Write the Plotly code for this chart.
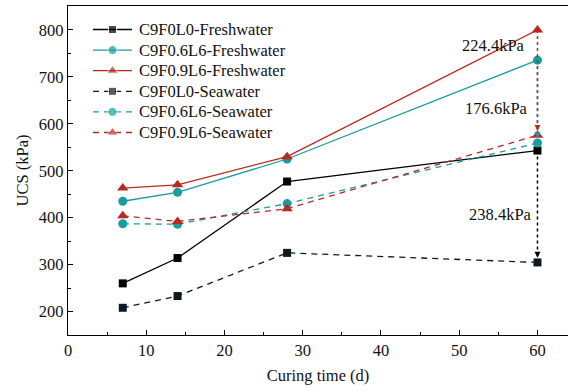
import plotly.graph_objects as go

days = [7, 14, 28, 60]
fresh_c9f0l0 = [260, 314, 477, 543]
fresh_c9f06l6 = [435, 454, 525, 735.6]
fresh_c9f09l6 = [463, 470, 530, 800]
sea_c9f0l0 = [208, 233, 325, 304.6]
sea_c9f06l6 = [387, 386, 430, 559]
sea_c9f09l6 = [404, 392, 419, 575.6]

names = ["C9F0L0-Freshwater", "C9F0.6L6-Freshwater", "C9F0.9L6-Freshwater",
         "C9F0L0-Seawater", "C9F0.6L6-Seawater", "C9F0.9L6-Seawater"]
diff_labels = ["238.4kPa", "176.6kPa", "224.4kPa"]

BLACK = "#000000"
DARK = "#0e1a22"
TEAL = "#1a9c9e"
RED = "#b82a1f"

FONT = "Liberation Serif, serif"

W, H = 568, 392
ML, MR, MT, MB = 68, 0, 6, 57

fig = go.Figure()
series = [
    (fresh_c9f0l0, names[0], BLACK, "square", "solid", 8),
    (fresh_c9f06l6, names[1], TEAL, "circle", "solid", 9),
    (fresh_c9f09l6, names[2], RED, "triangle-up", "solid", 10),
    (sea_c9f0l0, names[3], DARK, "square", "6px,5px", 8),
    (sea_c9f06l6, names[4], TEAL, "circle", "6px,5px", 9),
    (sea_c9f09l6, names[5], RED, "triangle-up", "6px,5px", 10),
]
for ys, nm, col, sym, dash, sz in series:
    fig.add_trace(go.Scatter(
        x=days, y=ys, name=nm, mode="lines+markers", showlegend=False,
        line=dict(color=col, width=1.3, dash=dash),
        marker=dict(symbol=sym, size=sz, color=col),
    ))

# Manual legend drawn on an overlay axis measured in pixels
leg_x0, leg_x1, leg_text_x = 93, 132, 137
leg_y0, leg_dy = 29.5, 20.6
for i, (ys, nm, col, sym, dash, sz) in enumerate(series):
    yy = leg_y0 + i * leg_dy
    fig.add_trace(go.Scatter(
        x=[leg_x0, (leg_x0 + leg_x1) / 2, leg_x1], y=[yy, yy, yy],
        xaxis="x2", yaxis="y2", mode="lines+markers", showlegend=False,
        hoverinfo="skip",
        line=dict(color=col, width=1.3, dash=dash),
        marker=dict(symbol=sym, size=[0, sz, 0], color=col),
    ))
    fig.add_annotation(x=leg_text_x, y=yy, xref="x2", yref="y2", text=nm,
                       showarrow=False, xanchor="left", yanchor="middle",
                       font=dict(family=FONT, size=16.5, color="#111"))

# Difference indicators at 60 d (dotted line + arrowhead)
x_end = days[-1]
pairs = [
    (fresh_c9f0l0[-1], sea_c9f0l0[-1], BLACK, 10),
    (fresh_c9f06l6[-1], sea_c9f06l6[-1], TEAL, 10),
    (fresh_c9f09l6[-1], sea_c9f09l6[-1], RED, 9),
]
for top, bot, col, off in pairs:
    tip = bot + off
    fig.add_shape(type="line", x0=x_end, x1=x_end, y0=top, y1=tip,
                  xref="x", yref="y", line=dict(color=col, width=1.5, dash="dot"))
    fig.add_annotation(x=x_end, y=tip, ax=0, ay=-7, xref="x", yref="y",
                       showarrow=True, arrowhead=2, arrowsize=0.8, arrowwidth=1.5,
                       arrowcolor=col, text="")

label_pos = [(59.6, 406), (59.1, 632), (58.6, 766)]
for (lx, ly), txt in zip(label_pos, diff_labels):
    fig.add_annotation(x=lx, y=ly, text=txt, showarrow=False, xanchor="right",
                       yanchor="middle", font=dict(family=FONT, size=16.5, color="#111"))

fig.update_layout(
    width=W, height=H,
    margin=dict(l=ML, r=MR, t=MT, b=MB, autoexpand=False),
    paper_bgcolor="white", plot_bgcolor="white",
    font=dict(family=FONT, size=16.5, color="#111"),
    showlegend=False,
    xaxis2=dict(overlaying="x", range=[ML, W - MR], visible=False, fixedrange=True),
    yaxis2=dict(overlaying="y", range=[H - MB, MT], visible=False, fixedrange=True),
)
fig.update_layout(xaxis=dict(range=[0, 63.9], showline=True, linecolor="black", linewidth=1.3,
                 mirror=True, ticks="inside", ticklen=5, tickcolor="black",
                 dtick=10, tick0=0, showgrid=False, zeroline=False, automargin=False,
                 minor=dict(ticks="inside", ticklen=3, dtick=5, tickcolor="black"),
                 title=dict(text="Curing time (d)", font=dict(family=FONT, size=16.5), standoff=10),
                 tickfont=dict(family=FONT, size=16.5)))
fig.update_layout(yaxis=dict(range=[150, 851], showline=True, linecolor="black", linewidth=1.3,
                 mirror=False, ticks="inside", ticklen=5, tickcolor="black",
                 dtick=100, tick0=0, showgrid=False, zeroline=False, automargin=False,
                 minor=dict(ticks="inside", ticklen=3, dtick=50, tickcolor="black"),
                 title=dict(text="UCS (kPa)", font=dict(family=FONT, size=16.5), standoff=6),
                 tickfont=dict(family=FONT, size=16.5)))

fig.write_html("out.html", config={"displayModeBar": False},
               post_script="document.body.style.margin='0';")
